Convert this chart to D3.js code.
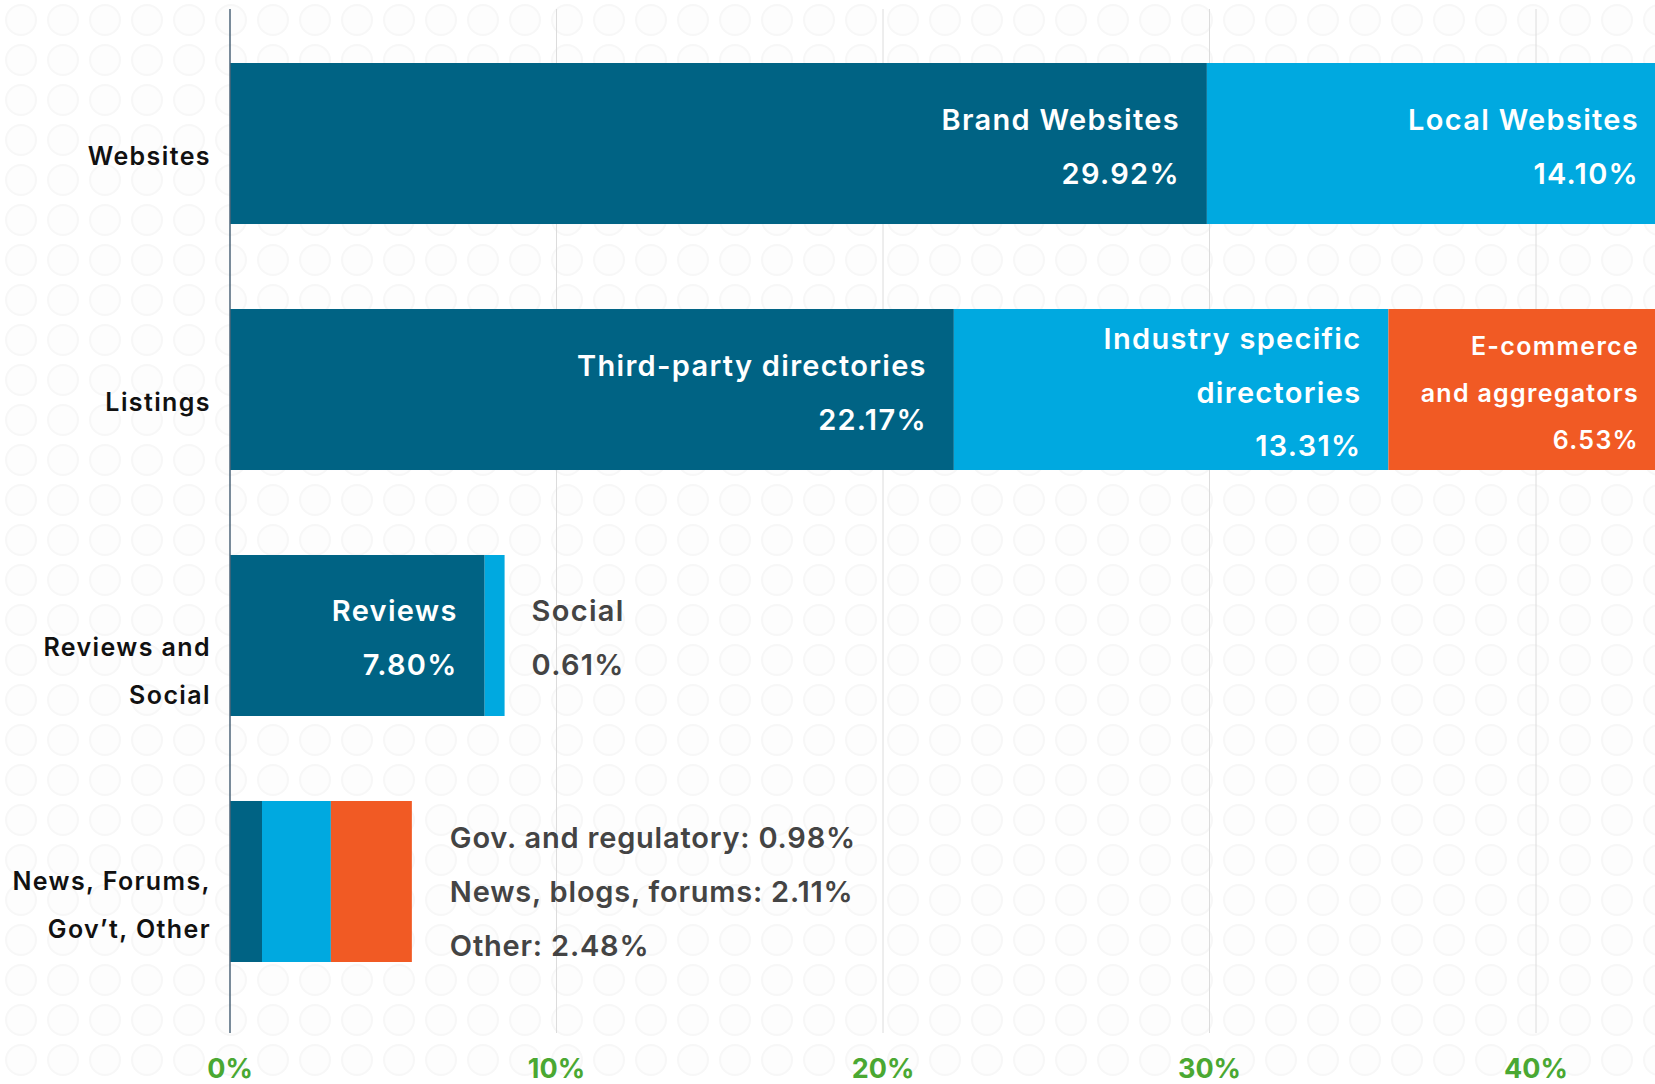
<!DOCTYPE html>
<html>
<head>
<meta charset="utf-8">
<script src="https://cdn.jsdelivr.net/npm/d3@7"></script>
<style>
  html, body { margin: 0; padding: 0; background: #fff; overflow: hidden; }
  svg text { font-family: Inter, Lato, sans-serif; font-weight: 600; }
</style>
</head>
<body>
<svg id="chart" width="1655" height="1084"></svg>
<script>
// categories on the y axis, each label split into lines
const categories = ["Websites", "Listings", "Reviews and Social", "News, Forums, Gov’t, Other"];
const categoryLines = [["Websites"], ["Listings"], ["Reviews and", "Social"], ["News, Forums,", "Gov’t, Other"]];
const categoryOffset = [12, 12, 12, 0];

// stacked segments per category (percent)
const websitesValues = [29.92, 14.10];
const websitesNames = [["Brand Websites"], ["Local Websites"]];
const listingsValues = [22.17, 13.31, 6.53];
const listingsNames = [["Third-party directories"], ["Industry specific", "directories"], ["E-commerce", "and aggregators"]];
const reviewsValues = [7.80, 0.61];
const reviewsNames = [["Reviews"], ["Social"]];
const otherValues = [0.98, 2.11, 2.48];
const otherNames = [["Gov. and regulatory"], ["News, blogs, forums"], ["Other"]];

const xTicks = [0, 10, 20, 30, 40];
const colors = ["#006384", "#00a9e0", "#f15a24"];

const svg = d3.select("#chart"),
    W = +svg.attr("width"),
    H = +svg.attr("height");

// faint circle pattern in the background
const defs = svg.append("defs");
const pat = defs.append("pattern")
    .attr("id", "dots")
    .attr("width", 42).attr("height", 40)
    .attr("patternUnits", "userSpaceOnUse");
pat.append("circle")
    .attr("cx", 21).attr("cy", 20).attr("r", 15)
    .attr("fill", "#fdfdfd")
    .attr("stroke", "#f7f7f7")
    .attr("stroke-width", 2);
svg.append("rect").attr("width", W).attr("height", H).attr("fill", "#fff");
svg.append("rect").attr("width", W).attr("height", H).attr("fill", "url(#dots)");

const x = d3.scaleLinear().domain([0, 40]).range([230, 1536]);
const y = d3.scaleBand()
    .domain(categories)
    .range([20.5, 1004.5])
    .paddingInner(0.3455)
    .paddingOuter(0.1728);

const gridTop = 9, gridBottom = 1033;

// vertical grid lines
svg.append("g")
    .selectAll("line")
    .data(xTicks.slice(1))
    .join("line")
    .attr("x1", d => x(d)).attr("x2", d => x(d))
    .attr("y1", gridTop).attr("y2", gridBottom)
    .attr("stroke", "#dcdcdc")
    .attr("stroke-width", 1);

// tick labels
svg.append("g")
    .selectAll("text")
    .data(xTicks)
    .join("text")
    .attr("x", d => x(d))
    .attr("y", 1078)
    .attr("text-anchor", "middle")
    .attr("fill", "#4aa832")
    .style("font-size", "27px")
    .style("font-weight", 700)
    .text(d => d + "%");

const rows = [
    {cat: categories[0], values: websitesValues, names: websitesNames},
    {cat: categories[1], values: listingsValues, names: listingsNames},
    {cat: categories[2], values: reviewsValues, names: reviewsNames},
    {cat: categories[3], values: otherValues, names: otherNames}
];

rows.forEach(function(row) {
    let start = 0;
    const total = d3.sum(row.values);
    const segs = row.values.map(function(v, i) {
        const s = {start: start, end: start + v, value: v, name: row.names[i], color: colors[i]};
        start += v;
        return s;
    });
    // rows running past the axis max bleed off the right edge
    segs.forEach(function(s, i) {
        s.bleed = total > x.domain()[1] && i === segs.length - 1;
        s.x0 = x(s.start);
        s.x1 = s.bleed ? W : x(s.end);
    });
    svg.append("g")
        .selectAll("rect")
        .data(segs)
        .join("rect")
        .attr("x", d => d.x0)
        .attr("y", y(row.cat))
        .attr("width", d => d.x1 - d.x0)
        .attr("height", y.bandwidth())
        .attr("fill", d => d.color);
    row.segs = segs;
});

function drawBlock(xPos, anchor, cy, lines, fs, lh, fill, ls) {
    const t = svg.append("text")
        .attr("text-anchor", anchor)
        .attr("fill", fill)
        .style("font-size", fs + "px")
        .style("letter-spacing", ls + "px");
    const top = cy - (lines.length - 1) * lh / 2;
    lines.forEach(function(l, i) {
        t.append("tspan")
            .attr("x", xPos)
            .attr("y", top + i * lh + fs * 0.36)
            .text(l);
    });
}

// labels inside bars (first two rows)
rows.slice(0, 2).forEach(function(row) {
    const cy = y(row.cat) + y.bandwidth() / 2 + 3;
    row.segs.forEach(function(s) {
        const small = s.name.length > 1 && s.color === colors[2];
        const fs = small ? 25 : 29;
        const lh = small ? 47 : 53.5;
        const right = s.bleed ? W - 16 : s.x1 - 27;
        drawBlock(right, "end", cy, s.name.concat([s.value.toFixed(2) + "%"]), fs, lh, "#fff", 1.3);
    });
});

// reviews row: inside label + outside social label
(function() {
    const row = rows[2];
    const cy = y(row.cat) + y.bandwidth() / 2 + 2;
    const r = row.segs[0], s = row.segs[1];
    drawBlock(r.x1 - 27, "end", cy, r.name.concat([r.value.toFixed(2) + "%"]), 29, 53.5, "#fff", 1.3);
    drawBlock(s.x1 + 27, "start", cy, s.name.concat([s.value.toFixed(2) + "%"]), 29, 53.5, "#444", 1.3);
})();

// last row: legend lines to the right
(function() {
    const row = rows[3];
    const cy = y(row.cat) + y.bandwidth() / 2 + 10.5;
    const last = row.segs[row.segs.length - 1];
    const lines = row.segs.map(d => d.name[0] + ": " + d.value.toFixed(2) + "%");
    drawBlock(last.x1 + 38, "start", cy, lines, 29, 54, "#444", 0.8);
})();

// category labels
categories.forEach(function(c, i) {
    const lines = categoryLines[i];
    const cy = y(c) + y.bandwidth() / 2 + categoryOffset[i];
    const t = svg.append("text")
        .attr("text-anchor", "end")
        .attr("fill", "#111")
        .style("font-size", "25px")
        .style("letter-spacing", "1.4px");
    lines.forEach(function(l, j) {
        t.append("tspan")
            .attr("x", 211)
            .attr("y", cy + j * 48 + 25 * 0.36)
            .text(l);
    });
});

// zero axis line
svg.append("line")
    .attr("x1", x(0)).attr("x2", x(0))
    .attr("y1", gridTop).attr("y2", gridBottom)
    .attr("stroke", "#4d6478")
    .attr("stroke-width", 1.5);
</script>
</body>
</html>
